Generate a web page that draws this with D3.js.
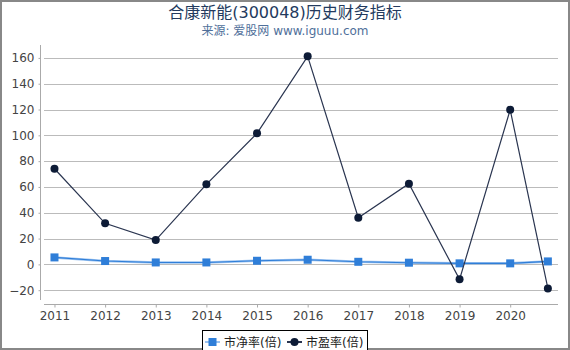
<!DOCTYPE html>
<html>
<head>
<meta charset="utf-8">
<script src="https://cdn.jsdelivr.net/npm/d3@7"></script>
<style>
  body { margin: 0; background: #fff; }
  text { font-family: "DejaVu Sans", "Noto Sans CJK SC", sans-serif; }
</style>
</head>
<body>
<svg id="chart"></svg>
<script>
// report dates as fractional years (last one is Q3 2020)
const dates = [2011, 2012, 2013, 2014, 2015, 2016, 2017, 2018, 2019, 2020, 2020.744];
const pbValues = [5.4, 2.6, 1.5, 1.5, 2.8, 3.6, 2.0, 1.3, 0.8, 0.8, 2.3];
const peValues = [74.1, 31.8, 18.8, 62.0, 101.6, 161.2, 36.1, 62.5, -11.6, 119.8, -18.6];
const yTicks = [-20, 0, 20, 40, 60, 80, 100, 120, 140, 160];
const xTicks = [2011, 2012, 2013, 2014, 2015, 2016, 2017, 2018, 2019, 2020];

const width = 570, height = 350;
const pbColor = "#2f7ed8", peColor = "#0d1b36";

const svg = d3.select("#chart").attr("width", width).attr("height", height);

// outer frame
svg.append("rect")
  .attr("x", 1).attr("y", 1)
  .attr("width", width - 2).attr("height", height - 2)
  .attr("fill", "none").attr("stroke", "#888").attr("stroke-width", 2);

const x = d3.scaleLinear().domain([2010.793, 2020.944]).range([44, 558]);
const y = d3.scaleLinear().domain([-27.6, 170]).range([300, 45]);

// titles
svg.append("text")
  .attr("x", 285).attr("y", 18).attr("text-anchor", "middle")
  .attr("font-size", 16).attr("fill", "#233a5e")
  .text("合康新能(300048)历史财务指标");
svg.append("text")
  .attr("x", 285).attr("y", 35).attr("text-anchor", "middle")
  .attr("font-size", 12).attr("fill", "#4f6f9a")
  .text("来源: 爱股网 www.iguuu.com");

// gridlines
svg.append("g").selectAll("line").data(yTicks).join("line")
  .attr("x1", 44).attr("x2", 558)
  .attr("y1", d => Math.round(y(d)) + 0.5).attr("y2", d => Math.round(y(d)) + 0.5)
  .attr("stroke", "#bbb").attr("stroke-width", 1);

// y axis
const yAxisG = svg.append("g").attr("transform", "translate(40.5,0)")
  .call(d3.axisLeft(y).tickValues(yTicks).tickSize(2).tickPadding(4));
yAxisG.select(".domain").attr("d", "M0,45V300").attr("stroke", "#aaa");
yAxisG.selectAll(".tick line").attr("stroke", "#aaa");
yAxisG.selectAll(".tick text").attr("font-size", 12).attr("fill", "#444");

// x axis
const xAxisG = svg.append("g").attr("transform", "translate(0,304.5)")
  .call(d3.axisBottom(x).tickValues(xTicks).tickFormat(d3.format("d")).tickSize(3).tickPadding(4));
xAxisG.select(".domain").attr("d", "M44,0H558").attr("stroke", "#aaa");
xAxisG.selectAll(".tick line").attr("stroke", "#aaa");
xAxisG.selectAll(".tick text").attr("font-size", 12).attr("fill", "#444");

const pbData = dates.map((d, i) => ({ date: d, value: pbValues[i] }));
const peData = dates.map((d, i) => ({ date: d, value: peValues[i] }));

const line = d3.line().x(d => x(d.date)).y(d => y(d.value));

// PB series
svg.append("path").datum(pbData).attr("d", line)
  .attr("fill", "none").attr("stroke", "#9cc3f0").attr("stroke-width", 2.5);
svg.append("path").datum(pbData).attr("d", line)
  .attr("fill", "none").attr("stroke", pbColor).attr("stroke-width", 1.1);
svg.append("g").selectAll("rect").data(pbData).join("rect")
  .attr("x", d => x(d.date) - 4).attr("y", d => y(d.value) - 4)
  .attr("width", 8).attr("height", 8).attr("fill", pbColor);

// PE series
svg.append("path").datum(peData).attr("d", line)
  .attr("fill", "none").attr("stroke", "#2a3550").attr("stroke-width", 1.2);
svg.append("g").selectAll("circle").data(peData).join("circle")
  .attr("cx", d => x(d.date)).attr("cy", d => y(d.value))
  .attr("r", 4).attr("fill", peColor);

// legend
const legend = svg.append("g");
legend.append("rect")
  .attr("x", 202.5).attr("y", 330.5).attr("width", 165).attr("height", 24)
  .attr("fill", "#fff").attr("stroke", "#000").attr("stroke-width", 1);
const legendItems = [
  { label: "市净率(倍)", color: pbColor, shape: "square", x: 205 },
  { label: "市盈率(倍)", color: peColor, shape: "circle", x: 287 }
];
legendItems.forEach(item => {
  const g = legend.append("g").attr("transform", `translate(${item.x},342)`);
  g.append("line").attr("x1", 0).attr("x2", 15).attr("y1", 0).attr("y2", 0)
    .attr("stroke", item.shape === "square" ? "#9cc3f0" : "#2a3550").attr("stroke-width", 2);
  if (item.shape === "square") {
    g.append("rect").attr("x", 3.5).attr("y", -4).attr("width", 8).attr("height", 8).attr("fill", item.color);
  } else {
    g.append("circle").attr("cx", 7.5).attr("cy", 0).attr("r", 4).attr("fill", item.color);
  }
  g.append("text").attr("x", 19).attr("y", 4.5)
    .attr("font-size", 12).attr("fill", "#222").text(item.label);
});
</script>
</body>
</html>
